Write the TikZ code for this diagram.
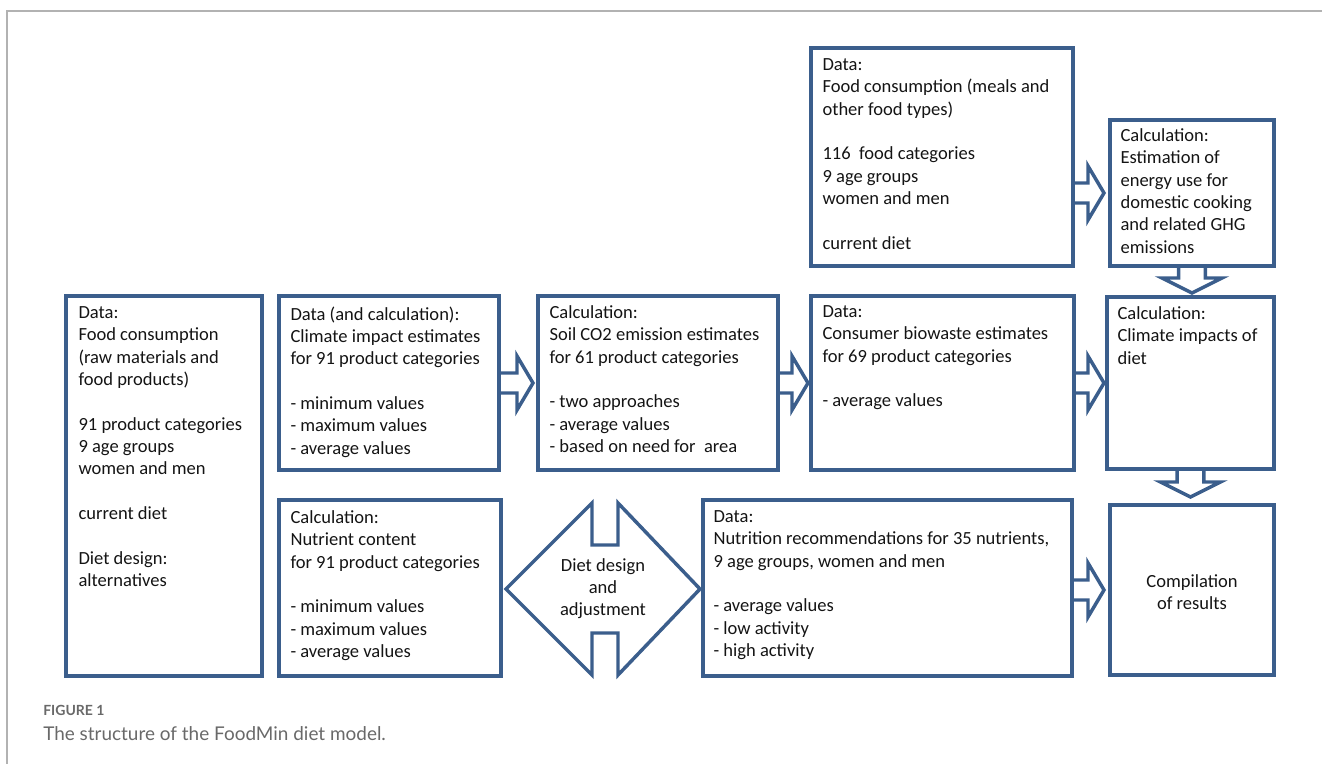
\documentclass[tikz,border=0pt]{standalone}
\usepackage{fontspec}
\setmainfont{Carlito}
\newfontfamily\capfont{Lato}
\usetikzlibrary{calc,fit}
\definecolor{boxblue}{RGB}{59,94,140}
\definecolor{txtc}{RGB}{20,20,20}
\definecolor{framegray}{RGB}{178,178,178}
\definecolor{capgray}{RGB}{105,105,105}
\begin{document}
\begin{tikzpicture}[x=0.75pt,y=-0.75pt,
  box/.style={draw=boxblue, line width=2.6pt, inner sep=0pt},
  txt/.style={anchor=north west, inner sep=0pt, align=left, text=txtc,
    font=\fontsize{13.9}{16.75}\selectfont, execute at begin node=\rule{0pt}{12pt}},
  ctxt/.style={txt, anchor=north, align=center},
  barrow/.style={draw=boxblue, line width=2.6pt, line join=miter},
  frameline/.style={draw=framegray, line width=1.4pt}]
\useasboundingbox (0,0) rectangle (1322,764);
\newcommand\mkbox[5]{%
  \path (#2,#3) coordinate (#1-nw) (#4,#5) coordinate (#1-se);
  \node[box, fit=(#1-nw)(#1-se)] (#1) {};}
% frame
\coordinate (fr1) at (7,764);
\coordinate (fr2) at (7,11);
\coordinate (fr3) at (1322,11);
\draw[frameline] (fr1) -- (fr2) -- (fr3);
% boxes
\mkbox{A}{66}{296}{262}{676}
\mkbox{B}{279}{296}{499}{470}
\mkbox{C}{538}{296}{778}{470}
\mkbox{D}{811}{296}{1074}{470}
\mkbox{E}{1107}{297}{1274}{469}
\mkbox{F}{811}{48}{1073}{266}
\mkbox{G}{1110}{120}{1274}{266}
\mkbox{H}{279}{500}{501}{676}
\mkbox{I}{703}{500}{1072}{676}
\mkbox{J}{1110}{505}{1274}{675}
% texts
\node[txt] (At) at ($(A.north west)+(14,12)$) {Data:\\Food consumption\\(raw materials and\\food products)\\[16.75pt]91 product categories\\9 age groups\\women and men\\[16.75pt]current diet\\[16.75pt]Diet design:\\alternatives};
\node[txt] (Bt) at ($(B.north west)+(13,12)$) {Data (and calculation):\\Climate impact estimates\\for 91 product categories\\[16.75pt]- minimum values\\- maximum values\\- average values};
\node[txt] (Ct) at ($(C.north west)+(13,11)$) {Calculation:\\Soil CO2 emission estimates\\for 61 product categories\\[16.75pt]- two approaches\\- average values\\- based on need for\ \ area};
\node[txt] (Dt) at ($(D.north west)+(13,11)$) {Data:\\Consumer biowaste estimates\\for 69 product categories\\[16.75pt]- average values};
\node[txt] (Et) at ($(E.north west)+(12,11)$) {Calculation:\\Climate impacts of\\diet};
\node[txt] (Ft) at ($(F.north west)+(13,12)$) {Data:\\Food consumption (meals and\\other food types)\\[16.75pt]116\ \ food categories\\9 age groups\\women and men\\[16.75pt]current diet};
\node[txt] (Gt) at ($(G.north west)+(12,10)$) {Calculation:\\Estimation of\\energy use for\\domestic cooking\\and related GHG\\emissions};
\node[txt] (Ht) at ($(H.north west)+(13,12)$) {Calculation:\\Nutrient content\\for 91 product categories\\[16.75pt]- minimum values\\- maximum values\\- average values};
\node[txt] (It) at ($(I.north west)+(12,12)$) {Data:\\Nutrition recommendations for 35 nutrients,\\9 age groups, women and men\\[16.75pt]- average values\\- low activity\\- high activity};
\node[ctxt] (Jt) at (1192,574) {Compilation\\of results};
% double arrow (diet design)
\draw[barrow] (506,589) -- (592,503) -- (592,545) -- (618,545) -- (618,503) -- (700,589)
  -- (618,675) -- (618,633) -- (592,633) -- (592,675) -- cycle;
\node[ctxt] (K) at (603,558) {Diet design\\and\\adjustment};
% right block arrows: source, target, tip x (px)
\newcommand\rarr[3]{%
  \draw[barrow] let \p1=(#1.east), \p2=(#2.west), \p3=(#3,0) in
   (\x1,\y2+7.5pt) -- (\x3-12pt,\y2+7.5pt) -- (\x3-12pt,\y2+20.25pt) -- (\x3,\y2)
   -- (\x3-12pt,\y2-20.25pt) -- (\x3-12pt,\y2-7.5pt) -- (\x1,\y2-7.5pt);}
\rarr{B}{C}{533}
\rarr{C}{D}{808}
\rarr{D}{E}{1104}
\rarr{F}{G}{1104}
\rarr{I}{J}{1104}
% down block arrows: source, target, tip y (px)
\newcommand\darr[3]{%
  \draw[barrow] let \p1=(#1.south), \p3=(0,#3) in
   (\x1-10.1pt,\y1) -- (\x1-10.1pt,\y3+11.25pt) -- (\x1-22.5pt,\y3+11.25pt) -- (\x1,\y3)
   -- (\x1+22.5pt,\y3+11.25pt) -- (\x1+10.1pt,\y3+11.25pt) -- (\x1+10.1pt,\y1);}
\darr{G}{E}{293}
\darr{E}{J}{497}
% caption
\node[anchor=base west, inner sep=0pt, text=capgray, font=\capfont\bfseries\fontsize{10.5}{12}\selectfont] (cap1) at (43,715) {FIGURE 1};
\node[anchor=base west, inner sep=0pt, text=capgray, font=\capfont\fontsize{14.2}{16}\selectfont] (cap2) at (43,740) {The structure of the FoodMin diet model.};
\end{tikzpicture}
\end{document}
